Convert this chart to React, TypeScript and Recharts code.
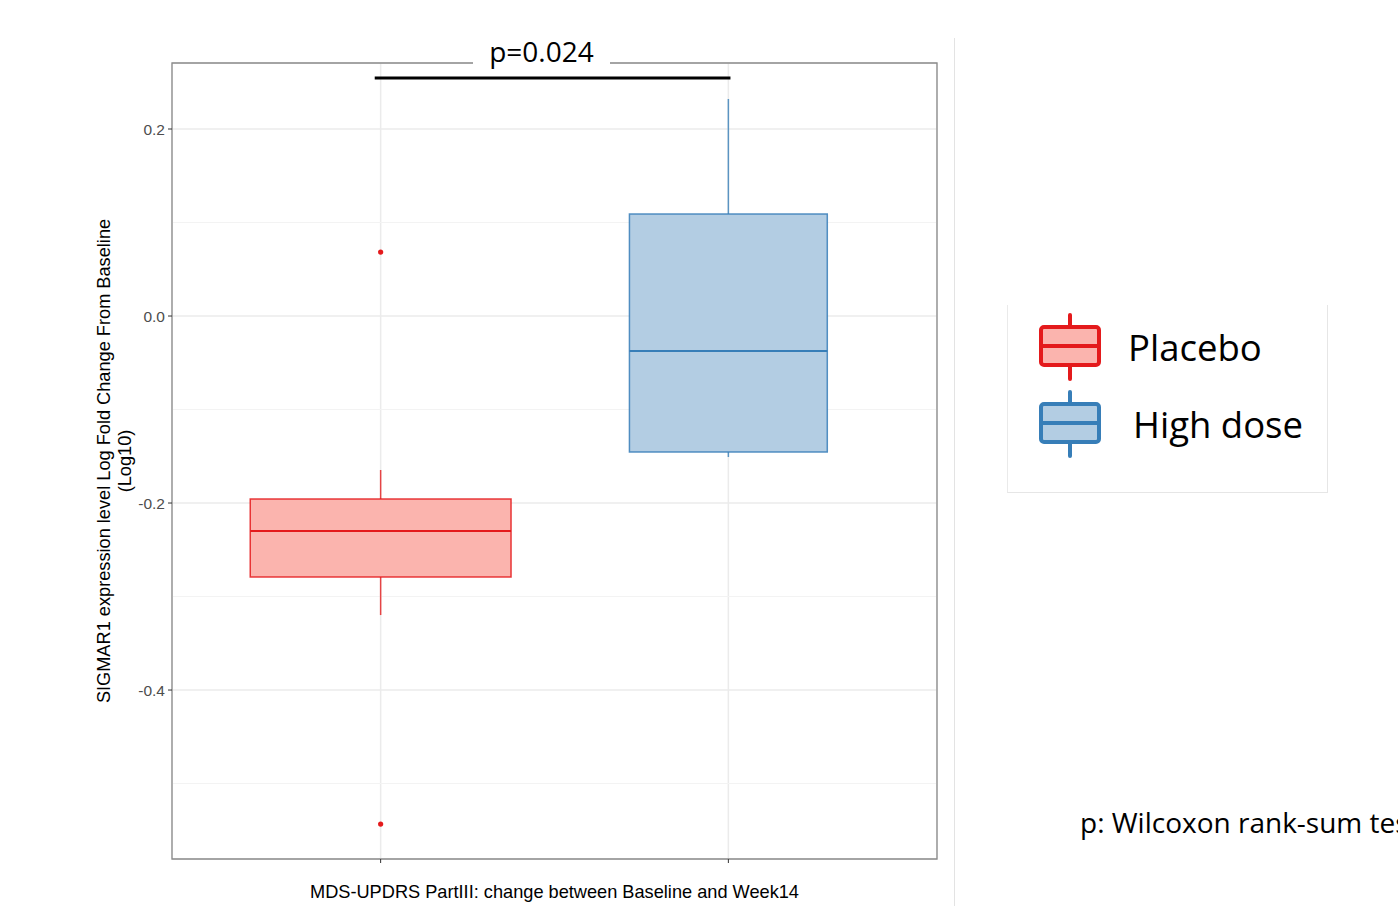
import React from 'react';
import {
  ComposedChart, XAxis, YAxis, CartesianGrid, ReferenceArea, ReferenceLine, Scatter,
} from 'recharts';

// ---- data ----
const groups = ['Placebo', 'High dose'];
const groupPos = [1, 2];
const boxHalfWidth = [0.375, 0.2845];
const whiskerLow = [-0.3198, -0.1508];
const q1 = [-0.2791, -0.1455];
const median = [-0.2299, -0.0374];
const q3 = [-0.1957, 0.1091];
const whiskerHigh = [-0.1647, 0.2321];
const outlierGroup = [1, 1];
const outlierValues = [0.0684, -0.5433];
const yTicks = [-0.4, -0.2, 0.0, 0.2];
const yMinorTicks = [-0.5, -0.3, -0.1, 0.1];
const yDomain = [-0.5807, 0.2706];
const xDomain = [0.4, 2.6];
const pValueText = 'p=0.024';
const bracketY = 0.2545;
const bracketX = [0.983, 2.006];
const xLabel = 'MDS-UPDRS PartIII: change between Baseline and Week14';
const yLabelLines = ['SIGMAR1 expression level Log Fold Change From Baseline', '(Log10)'];
const footnote = 'p: Wilcoxon rank-sum test';

const fills = ['#fbb4ae', '#b3cde3'];
const strokes = ['#e41a1c', '#377eb8'];

const outlierData = outlierGroup.map((g, i) => ({ x: g, y: outlierValues[i], c: strokes[g - 1] }));

const YLabel = (props: any) => {
  const vb = props.viewBox || { x: 0, y: 63, width: 172, height: 796 };
  const cy = vb.y + vb.height / 2;
  const xs = [104, 125];
  return (
    <g>
      {yLabelLines.map((t, i) => (
        <text key={i} x={xs[i]} y={cy} transform={`rotate(-90 ${xs[i]} ${cy})`} textAnchor="middle"
          dominantBaseline="central" fontFamily="'Liberation Sans', Arial, sans-serif" fontSize={18.2} fill="#000">
          {t}
        </text>
      ))}
    </g>
  );
};

const LegendIcon = ({ fill, stroke }: { fill: string; stroke: string }) => (
  <svg width={66} height={68} style={{ display: 'block' }}>
    <line x1={33} y1={2} x2={33} y2={66} stroke={stroke} strokeWidth={4} strokeLinecap="round" />
    <rect x={4} y={14} width={58} height={38} rx={3} fill={fill} stroke={stroke} strokeWidth={4} />
    <line x1={4} y1={33} x2={62} y2={33} stroke={stroke} strokeWidth={4} />
  </svg>
);

export default function App() {
  return (
    <div style={{ position: 'absolute', left: 0, top: 0, width: 1398, height: 906, overflow: 'hidden', background: '#fff' }}>
      <ComposedChart width={1398} height={906} margin={{ top: 63, right: 461, bottom: 0, left: 0 }}>
        <CartesianGrid stroke="#ebebeb" strokeWidth={1.5} horizontal={true} vertical={true} />
        {yMinorTicks.map((v) => (
          <ReferenceLine key={`mg${v}`} y={v} stroke="#f3f3f3" strokeWidth={1} zIndex={-90} />
        ))}
        <XAxis
          type="number"
          dataKey="x"
          domain={xDomain}
          ticks={groupPos}
          tickFormatter={() => ''}
          height={47}
          axisLine={false}
          tickLine={{ stroke: '#333', strokeWidth: 1 }}
          tickSize={4}
          allowDataOverflow
          label={{ value: xLabel, position: 'insideBottom', offset: 8, fill: '#000', fontSize: 18.2, fontFamily: "'Liberation Sans', Arial, sans-serif" }}
        />
        <YAxis
          type="number"
          dataKey="y"
          domain={yDomain}
          ticks={yTicks}
          width={172}
          allowDataOverflow
          axisLine={false}
          tickLine={{ stroke: '#333', strokeWidth: 1 }}
          tickSize={4}
          tickMargin={3}
          tickFormatter={(v: number) => v.toFixed(1)}
          tick={{ fill: '#4d4d4d', fontSize: 15.5, fontFamily: "'Liberation Sans', Arial, sans-serif" }}
          label={<YLabel />}
        />
        {groupPos.map((p, i) => (
          <ReferenceLine key={`wh${i}`} segment={[{ x: p, y: q3[i] }, { x: p, y: whiskerHigh[i] }]} stroke={strokes[i]} strokeWidth={1.5} strokeOpacity={0.8} ifOverflow="visible" />
        ))}
        {groupPos.map((p, i) => (
          <ReferenceLine key={`wl${i}`} segment={[{ x: p, y: q1[i] }, { x: p, y: whiskerLow[i] }]} stroke={strokes[i]} strokeWidth={1.5} strokeOpacity={0.8} ifOverflow="visible" />
        ))}
        {groupPos.map((p, i) => (
          <ReferenceArea key={`box${i}`} x1={p - boxHalfWidth[i]} x2={p + boxHalfWidth[i]} y1={q1[i]} y2={q3[i]} fill={fills[i]} fillOpacity={1}
            stroke={strokes[i]} strokeWidth={1.5} strokeOpacity={0.85} ifOverflow="visible" />
        ))}
        {groupPos.map((p, i) => (
          <ReferenceLine key={`med${i}`} segment={[{ x: p - boxHalfWidth[i], y: median[i] }, { x: p + boxHalfWidth[i], y: median[i] }]} stroke={strokes[i]} strokeWidth={2.2} ifOverflow="visible" />
        ))}
        <Scatter data={outlierData} dataKey="y" isAnimationActive={false}
          shape={(s: any) => <circle cx={s.cx} cy={s.cy} r={2.6} fill={s.payload.c} />} />
        <ReferenceArea x1={xDomain[0]} x2={xDomain[1]} y1={yDomain[0]} y2={yDomain[1]} fill="none" fillOpacity={0}
          stroke="#8a8a8a" strokeWidth={1.3} ifOverflow="visible" />
        <ReferenceLine segment={[{ x: bracketX[0], y: bracketY }, { x: bracketX[1], y: bracketY }]} stroke="#000" strokeWidth={3} ifOverflow="visible" />
      </ComposedChart>

      {/* p-value label covering top border */}
      <div style={{ position: 'absolute', left: 473, top: 34, width: 137, height: 34, background: '#fff',
        fontFamily: "'Open Sans', sans-serif", fontSize: 28, color: '#000', textAlign: 'center', lineHeight: '34px' }}>
        {pValueText}
      </div>

      {/* divider */}
      <div style={{ position: 'absolute', left: 954, top: 38, width: 1, height: 868, background: '#e3e3e3' }} />

      {/* legend */}
      <div style={{ position: 'absolute', left: 1007, top: 305, width: 319, height: 187, border: '1px solid #e6e6e6', borderTop: 'none', borderLeft: '1px solid #eaeaea' }}>
        {groups.map((g, i) => (
          <div key={g} style={{ position: 'absolute', left: 29, top: i === 0 ? 8 : 85, display: 'flex', alignItems: 'center' }}>
            <LegendIcon fill={fills[i]} stroke={strokes[i]} />
            <span style={{ marginLeft: i === 0 ? 25 : 30, fontFamily: "'Open Sans', sans-serif", fontSize: 36.5, color: '#000', whiteSpace: 'nowrap' }}>{g}</span>
          </div>
        ))}
      </div>

      {/* footnote (clipped at the right edge as in the reference) */}
      <div style={{ position: 'absolute', left: 1080, top: 802, fontFamily: "'Open Sans', sans-serif", fontSize: 28, color: '#000', whiteSpace: 'nowrap', lineHeight: '40px' }}>
        {footnote}
      </div>
    </div>
  );
}
